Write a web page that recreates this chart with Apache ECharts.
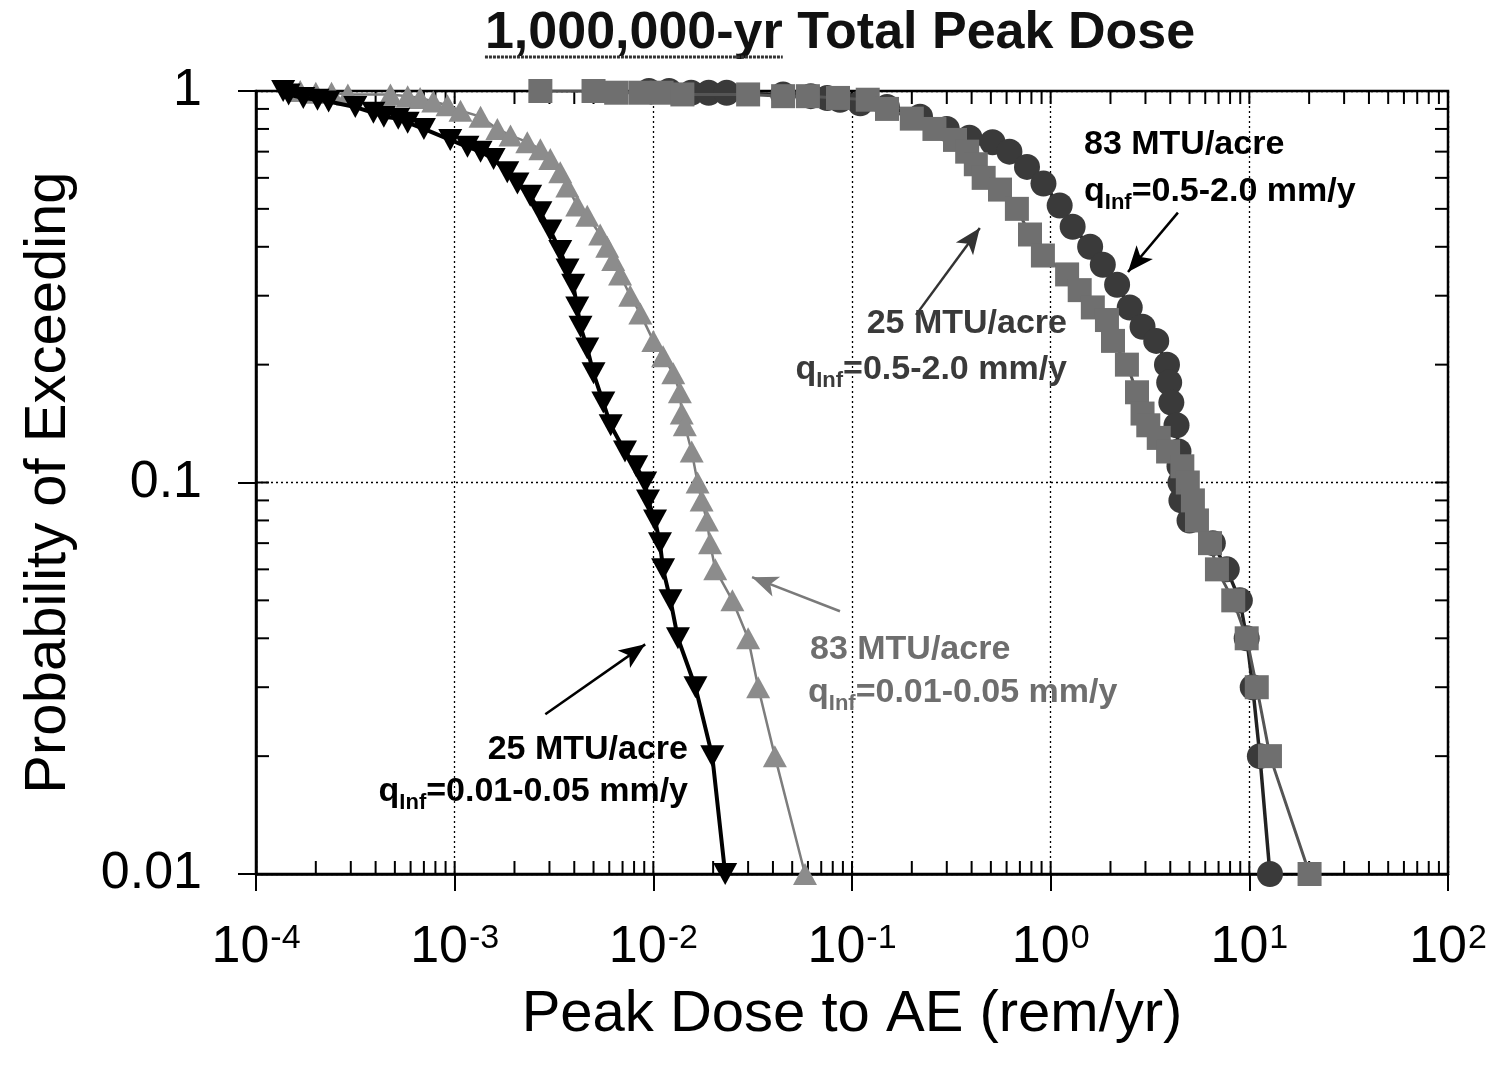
<!DOCTYPE html>
<html>
<head>
<meta charset="utf-8">
<title>1,000,000-yr Total Peak Dose</title>
<script src="https://cdn.jsdelivr.net/npm/echarts@6.0.0/dist/echarts.min.js"></script>
<style>
html,body{margin:0;padding:0;background:#fff;}
#chart{width:1499px;height:1075px;}
</style>
</head>
<body>
<div id="chart"></div>
<script>
// 25 MTU/acre, qInf=0.01-0.05 mm/y (black, down triangles)
var doseA = [1.37e-4, 1.46e-4, 1.73e-4, 2.04e-4, 2.32e-4, 3.16e-4, 3.9e-4, 4.4e-4, 5.2e-4, 5.8e-4, 7.0e-4, 9.5e-4, 1.16e-3, 1.35e-3, 1.57e-3, 1.84e-3, 2.07e-3, 2.4e-3, 2.7e-3, 3.03e-3, 3.4e-3, 3.7e-3, 3.95e-3, 4.14e-3, 4.3e-3, 4.65e-3, 5.0e-3, 5.6e-3, 6.1e-3, 7.2e-3, 8.2e-3, 9.1e-3, 9.4e-3, 0.0102, 0.0108, 0.0112, 0.0122, 0.0133, 0.0163, 0.0198, 0.023];
var probA = [1.00, 0.98, 0.96, 0.95, 0.94, 0.91, 0.88, 0.86, 0.85, 0.83, 0.80, 0.75, 0.72, 0.70, 0.67, 0.62, 0.58, 0.54, 0.49, 0.44, 0.39, 0.35, 0.32, 0.28, 0.25, 0.22, 0.19, 0.16, 0.14, 0.12, 0.11, 0.10, 0.09, 0.08, 0.07, 0.06, 0.05, 0.04, 0.03, 0.02, 0.01];

// 83 MTU/acre, qInf=0.01-0.05 mm/y (grey, up triangles)
var doseB = [1.67e-4, 2.0e-4, 2.4e-4, 2.9e-4, 4.75e-4, 5.8e-4, 6.7e-4, 7.8e-4, 9.2e-4, 1.07e-3, 1.35e-3, 1.64e-3, 1.91e-3, 2.32e-3, 2.7e-3, 3.03e-3, 3.4e-3, 3.69e-3, 4.14e-3, 4.65e-3, 5.4e-3, 5.86e-3, 6.28e-3, 6.8e-3, 7.65e-3, 8.6e-3, 0.010, 0.0112, 0.0126, 0.0136, 0.0139, 0.0144, 0.0156, 0.0167, 0.0175, 0.0186, 0.0193, 0.0205, 0.025, 0.030, 0.0337, 0.0409, 0.058];
var probB = [1.00, 0.99, 0.99, 0.98, 0.98, 0.97, 0.96, 0.94, 0.92, 0.89, 0.86, 0.80, 0.77, 0.74, 0.71, 0.67, 0.62, 0.57, 0.51, 0.48, 0.43, 0.40, 0.37, 0.34, 0.30, 0.27, 0.23, 0.21, 0.19, 0.17, 0.15, 0.14, 0.12, 0.10, 0.09, 0.08, 0.07, 0.06, 0.05, 0.04, 0.03, 0.02, 0.01];

// 25 MTU/acre, qInf=0.5-2.0 mm/y (grey squares)
var doseC = [0.0027, 0.0050, 0.0065, 0.0086, 0.011, 0.014, 0.030, 0.045, 0.060, 0.085, 0.12, 0.15, 0.20, 0.26, 0.33, 0.38, 0.42, 0.46, 0.556, 0.676, 0.787, 0.914, 1.21, 1.40, 1.63, 1.92, 2.06, 2.42, 2.72, 2.9, 3.1, 3.5, 3.9, 4.6, 4.9, 5.2, 5.45, 6.34, 6.87, 8.3, 9.7, 10.9, 12.7, 20.1];
var probC = [1.00, 1.00, 0.99, 0.99, 0.99, 0.98, 0.98, 0.97, 0.97, 0.96, 0.95, 0.90, 0.85, 0.80, 0.75, 0.70, 0.65, 0.60, 0.56, 0.50, 0.43, 0.38, 0.34, 0.31, 0.28, 0.26, 0.23, 0.20, 0.17, 0.15, 0.14, 0.13, 0.12, 0.11, 0.10, 0.09, 0.08, 0.07, 0.06, 0.05, 0.04, 0.03, 0.02, 0.01];

// 83 MTU/acre, qInf=0.5-2.0 mm/y (dark circles)
var doseD = [0.0095, 0.012, 0.0155, 0.019, 0.0234, 0.045, 0.062, 0.075, 0.087, 0.11, 0.15, 0.22, 0.30, 0.39, 0.51, 0.62, 0.76, 0.92, 1.11, 1.29, 1.58, 1.83, 2.16, 2.5, 2.9, 3.4, 3.85, 3.95, 4.05, 4.3, 4.4, 4.45, 4.5, 4.55, 5.0, 6.55, 7.7, 8.96, 9.7, 10.4, 11.3, 12.7];
var probD = [1.00, 1.00, 0.99, 0.99, 0.99, 0.98, 0.97, 0.96, 0.95, 0.93, 0.91, 0.86, 0.80, 0.76, 0.74, 0.70, 0.64, 0.58, 0.51, 0.45, 0.40, 0.36, 0.32, 0.28, 0.25, 0.23, 0.20, 0.18, 0.16, 0.14, 0.12, 0.11, 0.10, 0.09, 0.08, 0.07, 0.06, 0.05, 0.04, 0.03, 0.02, 0.01];

// axis ticks: decades and the in-between multipliers
var xDecades = [-4, -3, -2, -1, 0, 1];
var yDecades = [-2, -1];
var tickMults = [1, 2, 3, 4, 5, 6, 7, 8, 9];

// annotation arrows [tail dose, tail prob, head dose, head prob]
var arrowLowBlack = [0.00286, 0.0256, 0.0091, 0.0386];
var arrowLowGrey = [0.087, 0.0469, 0.0314, 0.0573];
var arrowUpGrey = [0.21, 0.268, 0.44, 0.447];
var arrowUpBlack = [4.37, 0.489, 2.45, 0.345];

var FONT = '"Liberation Sans", Arial, Helvetica, sans-serif';

function pairs(xs, ys) {
  return xs.map(function (x, i) { return [x, ys[i]]; });
}

var xTickVals = [];
xDecades.forEach(function (d) {
  tickMults.forEach(function (m) { xTickVals.push([m * Math.pow(10, d), 1]); });
});
var yTickVals = [];
yDecades.forEach(function (d) {
  tickMults.forEach(function (m) { yTickVals.push([1e-4, m * Math.pow(10, d)]); });
});

function tickLine(x1, y1, x2, y2) {
  return {type: 'line', shape: {x1: x1, y1: y1, x2: x2, y2: y2}, style: {stroke: '#000', lineWidth: 2}};
}

function arrow(a, color) {
  return [
    {coord: [a[0], a[1]], symbol: 'none'},
    {coord: [a[2], a[3]], symbol: 'arrow', lineStyle: {color: color}, itemStyle: {color: color}}
  ];
}

var chart = echarts.init(document.getElementById('chart'), null, {renderer: 'canvas'});

// title width for the underline
var ctx = document.createElement('canvas').getContext('2d');
ctx.font = 'bold 52px ' + FONT;
var titleText = '1,000,000-yr Total Peak Dose';
var wAll = ctx.measureText(titleText).width;
var wUnder = ctx.measureText('1,000,000-yr').width;
var titleLeft = 840 - wAll / 2;

var qRich = {
  m: {fontSize: 34, fontWeight: 'bold', fontFamily: FONT, lineHeight: 44},
  s: {fontSize: 22, fontWeight: 'bold', fontFamily: FONT, verticalAlign: 'bottom'}
};
function note(x, y, text, align, color, rich) {
  var st = {
    text: text, fontSize: 34, fontWeight: 'bold', fontFamily: FONT,
    fill: color, textAlign: align, textVerticalAlign: 'middle'
  };
  if (rich) {
    var r = JSON.parse(JSON.stringify(qRich));
    r.m.color = color; r.s.color = color;
    st.rich = r;
  }
  return {type: 'text', x: x, y: y, silent: true, z: 100, style: st};
}

chart.setOption({
  animation: false,
  backgroundColor: '#fff',
  grid: {left: 256, right: 51, top: 91, bottom: 201, show: true, borderColor: '#000', borderWidth: 2.5},
  xAxis: {
    type: 'log', logBase: 10, min: 1e-4, max: 100,
    name: 'Peak Dose to AE (rem/yr)', nameLocation: 'middle', nameGap: 112,
    nameTextStyle: {fontSize: 58, fontFamily: FONT, color: '#000'},
    axisLine: {show: true, lineStyle: {color: '#000', width: 2.5}},
    axisTick: {show: true, inside: false, length: 17, lineStyle: {color: '#000', width: 2}},
    minorTick: {show: false},
    splitLine: {show: true, lineStyle: {color: '#000', width: 1.3, type: [2, 3]}},
    axisLabel: {
      margin: 46,
      formatter: function (v) {
        return '{b|10}{s|' + Math.round(Math.log10(v)) + '}';
      },
      rich: {
        b: {fontSize: 52, fontFamily: FONT, color: '#000', lineHeight: 56},
        s: {fontSize: 34, fontFamily: FONT, color: '#000', verticalAlign: 'top', padding: [2, 0, 0, 1]}
      }
    }
  },
  yAxis: {
    type: 'log', logBase: 10, min: 0.01, max: 1,
    name: 'Probability of Exceeding', nameLocation: 'middle', nameGap: 178, nameRotate: 90,
    nameTextStyle: {fontSize: 58, fontFamily: FONT, color: '#000'},
    axisLine: {show: true, lineStyle: {color: '#000', width: 2.5}},
    axisTick: {show: true, inside: false, length: 18, lineStyle: {color: '#000', width: 2}},
    splitLine: {show: true, lineStyle: {color: '#000', width: 1.3, type: [2, 3]}},
    axisLabel: {margin: 54, fontSize: 52, fontFamily: FONT, color: '#000'}
  },
  graphic: [
    {type: 'text', x: titleLeft, y: 34, silent: true,
     style: {text: titleText, fontSize: 52, fontWeight: 'bold', fontFamily: FONT, fill: '#111', textAlign: 'left', textVerticalAlign: 'middle'}},
    {type: 'line', silent: true, shape: {x1: titleLeft, y1: 57, x2: titleLeft + wUnder, y2: 57},
     style: {stroke: '#333', lineWidth: 3, lineDash: [3, 1]}},
    note(1084, 145, '83 MTU/acre', 'left', '#000'),
    note(1084, 192, '{m|q}{s|Inf}{m|=0.5-2.0 mm/y}', 'left', '#000', true),
    note(1067, 324, '25 MTU/acre', 'right', '#3a3a3a'),
    note(1067, 370, '{m|q}{s|Inf}{m|=0.5-2.0 mm/y}', 'right', '#3a3a3a', true),
    note(810, 650, '83 MTU/acre', 'left', '#6e6e6e'),
    note(808, 693, '{m|q}{s|Inf}{m|=0.01-0.05 mm/y}', 'left', '#6e6e6e', true),
    note(688, 750, '25 MTU/acre', 'right', '#000'),
    note(688, 792, '{m|q}{s|Inf}{m|=0.01-0.05 mm/y}', 'right', '#000', true)
  ],
  series: [
    {
      name: 'x ticks', type: 'custom', coordinateSystem: 'cartesian2d', silent: true, z: 1,
      data: xTickVals, encode: {x: 0, y: 1},
      renderItem: function (params, api) {
        var v = api.value(0);
        var b = api.coord([v, 0.01]);
        var t = api.coord([v, 1]);
        return {type: 'group', children: [
          tickLine(b[0], b[1], b[0], b[1] - 13),
          tickLine(t[0], t[1], t[0], t[1] + 13)
        ]};
      }
    },
    {
      name: 'y ticks', type: 'custom', coordinateSystem: 'cartesian2d', silent: true, z: 1,
      data: yTickVals, encode: {x: 0, y: 1},
      renderItem: function (params, api) {
        var v = api.value(1);
        var l = api.coord([1e-4, v]);
        var r = api.coord([100, v]);
        return {type: 'group', children: [
          tickLine(l[0], l[1], l[0] + 13, l[1]),
          tickLine(r[0], r[1], r[0] - 13, r[1])
        ]};
      }
    },
    {
      name: '83 MTU/acre, qInf=0.5-2.0 mm/y', type: 'line', data: pairs(doseD, probD),
      symbol: 'circle', symbolSize: 26, z: 3,
      lineStyle: {color: '#222', width: 3.5},
      itemStyle: {color: '#3a3a3a'}
    },
    {
      name: '25 MTU/acre, qInf=0.5-2.0 mm/y', type: 'line', data: pairs(doseC, probC),
      symbol: 'rect', symbolSize: 24, z: 4,
      lineStyle: {color: '#555', width: 3},
      itemStyle: {color: '#6f6f6f'}
    },
    {
      name: '83 MTU/acre, qInf=0.01-0.05 mm/y', type: 'line', data: pairs(doseB, probB),
      symbol: 'triangle', symbolSize: [24, 22], z: 5,
      lineStyle: {color: '#7d7d7d', width: 2.5},
      itemStyle: {color: '#8c8c8c'}
    },
    {
      name: '25 MTU/acre, qInf=0.01-0.05 mm/y', type: 'line', data: pairs(doseA, probA),
      symbol: 'triangle', symbolRotate: 180, symbolSize: [24, 22], z: 6,
      lineStyle: {color: '#000', width: 4},
      itemStyle: {color: '#000'},
      markLine: {
        silent: true, symbol: ['none', 'arrow'], symbolSize: [16, 26],
        label: {show: false},
        lineStyle: {color: '#000', width: 2.5, type: 'solid'},
        data: [
          arrow(arrowLowBlack, '#000'),
          arrow(arrowLowGrey, '#7a7a7a'),
          arrow(arrowUpGrey, '#333'),
          arrow(arrowUpBlack, '#000')
        ]
      }
    }
  ]
});
</script>
</body>
</html>
